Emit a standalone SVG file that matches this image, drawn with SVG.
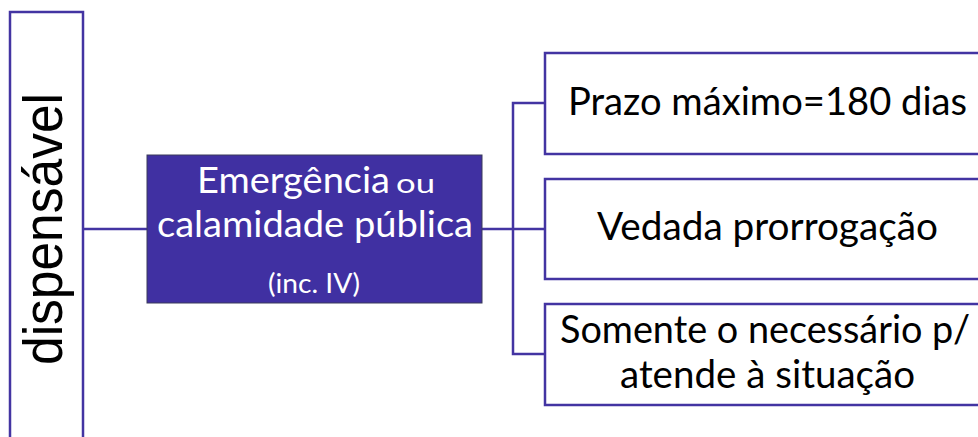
<svg xmlns="http://www.w3.org/2000/svg" width="978" height="437" viewBox="0 0 978 437">
<style>
.box{fill:#ffffff;stroke:#4334a2;stroke-width:2.5}
.mid{fill:#4030a2;stroke:#3a3a5a;stroke-width:1}
.con{fill:none;stroke:#4334a2;stroke-width:2.5}
.wt{font-family:Lato,"Open Sans",sans-serif;fill:#ffffff}
.bt{font-family:Lato,"Open Sans",sans-serif;fill:#000000;font-size:38px}
</style>
<rect width="978" height="437" fill="#ffffff"/>
<g id="connectors">
<line class="con" x1="84" y1="229" x2="148" y2="229"/>
<line class="con" x1="482" y1="229" x2="545" y2="229"/>
<polyline class="con" points="545,103 513,103 513,354 545,354"/>
</g>
<g id="node-dispensavel">
<rect class="box" x="10" y="12" width="73" height="440"/>
<text x="62" y="229" transform="rotate(-90 62 229)" text-anchor="middle" font-family="Liberation Sans,Arial,sans-serif" font-size="56" textLength="272" lengthAdjust="spacingAndGlyphs" fill="#000000">dispensável</text>
</g>
<g id="node-emergencia">
<rect class="mid" x="147" y="155" width="335" height="148"/>
<text class="wt" x="197" y="193" font-size="37" textLength="193" lengthAdjust="spacingAndGlyphs">Emergência</text>
<text class="wt" x="396" y="193" font-size="26" textLength="39" lengthAdjust="spacingAndGlyphs">ou</text>
<text class="wt" x="157" y="237" font-size="37" textLength="316" lengthAdjust="spacingAndGlyphs">calamidade pública</text>
<text class="wt" x="268" y="293" font-size="26" textLength="92" lengthAdjust="spacingAndGlyphs">(inc. IV)</text>
</g>
<g id="node-prazo">
<rect class="box" x="545" y="53" width="445" height="101"/>
<text class="bt" x="568" y="115" textLength="399" lengthAdjust="spacingAndGlyphs">Prazo máximo=180 dias</text>
</g>
<g id="node-vedada">
<rect class="box" x="545" y="179" width="445" height="100"/>
<text class="bt" x="597" y="240" textLength="341" lengthAdjust="spacingAndGlyphs">Vedada prorrogação</text>
</g>
<g id="node-somente">
<rect class="box" x="545" y="304" width="445" height="101"/>
<text class="bt" x="560" y="343" textLength="410" lengthAdjust="spacingAndGlyphs">Somente o necessário p/</text>
<text class="bt" x="620" y="388" textLength="295" lengthAdjust="spacingAndGlyphs">atende à situação</text>
</g>
</svg>
